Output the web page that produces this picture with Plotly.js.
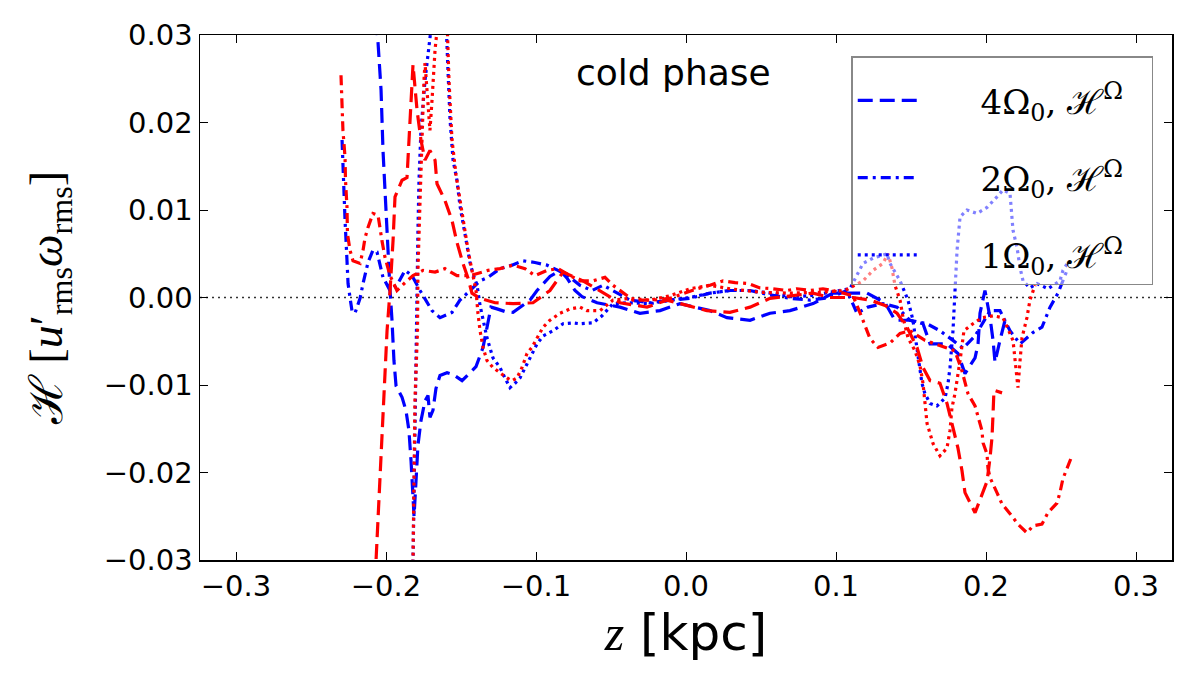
<!DOCTYPE html>
<html>
<head>
<meta charset="utf-8">
<script src="https://cdn.plot.ly/plotly-3.0.1.min.js"></script>
<style>
  html, body { margin: 0; padding: 0; background: #fff; }
  #chart { width: 1196px; height: 683px; }
</style>
</head>
<body>
<div id="chart"></div>
<script>
// helicity profiles, cold phase (z in kpc, H in u'_rms * w_rms)

// 4 Omega_0, H^Omega (blue dashed)
var z4b = [-0.2067, -0.2053, -0.2033, -0.202, -0.2, -0.1987, -0.1973, -0.196, -0.1947, -0.1933,
  -0.1893, -0.1867, -0.1847, -0.1833, -0.182, -0.1813, -0.18, -0.1787, -0.1767, -0.174,
  -0.172, -0.1707, -0.1687, -0.1667, -0.164, -0.1593, -0.1553, -0.1493, -0.144, -0.14,
  -0.1353, -0.132, -0.13, -0.126, -0.1207, -0.1153, -0.1093, -0.104, -0.0993, -0.0953,
  -0.0907, -0.084, -0.0793, -0.074, -0.0693, -0.0593, -0.044, -0.0307, -0.0173, -0.004,
  0.006, 0.016, 0.0273, 0.0427, 0.056, 0.0693, 0.0847, 0.098, 0.1093, 0.1207,
  0.1327, 0.1393, 0.1493, 0.158, 0.1627, 0.174, 0.1813, 0.186, 0.1893, 0.1927,
  0.1947, 0.196, 0.1993, 0.2027, 0.2047, 0.206, 0.2093, 0.2127];
var h4b = [0.0317, 0.0291, 0.0237, 0.0168, 0.0100, 0.0048, 0.0008, -0.0026, -0.0072, -0.0101,
  -0.0114, -0.0129, -0.0152, -0.0187, -0.0221, -0.0250, -0.0210, -0.0169, -0.0141, -0.0118,
  -0.0112, -0.0137, -0.0129, -0.0104, -0.0089, -0.0086, -0.0088, -0.0095, -0.0086, -0.0079,
  -0.0057, -0.0030, -0.0011, -0.0013, -0.0016, -0.0017, -0.0009, -0.0003, 0.0008, 0.0016,
  0.0024, 0.0031, 0.0022, 0.0008, 0.0001, -0.0006, -0.0011, -0.0018, -0.0015, -0.0007,
  -0.0011, -0.0015, -0.0023, -0.0026, -0.0018, -0.0015, -0.0007, 0.0005, 0.0005, 0.0005,
  -0.0006, -0.0026, -0.0026, -0.0030, -0.0053, -0.0053, -0.0064, -0.0087, -0.0078, -0.0069,
  -0.0053, -0.0018, 0.0008, -0.0023, -0.0049, -0.0074, -0.0049, -0.0026];

// 2 Omega_0, H^Omega (blue dash-dot)
var z2b = [-0.2293, -0.2287, -0.2283, -0.2273, -0.226, -0.2253, -0.224, -0.2227, -0.2207, -0.2173,
  -0.2153, -0.212, -0.2087, -0.206, -0.202, -0.1973, -0.1927, -0.1873, -0.1827, -0.1773,
  -0.1693, -0.164, -0.156, -0.1507, -0.144, -0.1373, -0.132, -0.124, -0.116, -0.1087,
  -0.1007, -0.0927, -0.0853, -0.0787, -0.0707, -0.0627, -0.0553, -0.0473, -0.0373, -0.024,
  -0.0107, 0.0027, 0.016, 0.0293, 0.0427, 0.056, 0.0693, 0.0827, 0.096, 0.1073,
  0.114, 0.1213, 0.1313, 0.1407, 0.1493, 0.1607, 0.1693, 0.178, 0.1847, 0.1927,
  0.2027, 0.2093, 0.216, 0.2227, 0.2273, 0.2313, 0.2373, 0.2427, 0.248, 0.2513, 0.2547];
var h2b = [0.0180, 0.0149, 0.0119, 0.0088, 0.0042, 0.0016, 0.0000, -0.0015, -0.0018, -0.0001,
  0.0016, 0.0040, 0.0054, 0.0052, 0.0023, 0.0008, 0.0014, 0.0031, 0.0025, 0.0008,
  -0.0015, -0.0023, -0.0017, -0.0003, 0.0008, 0.0019, 0.0023, 0.0033, 0.0037, 0.0042,
  0.0040, 0.0037, 0.0031, 0.0025, 0.0014, 0.0008, 0.0014, 0.0006, -0.0003, -0.0006,
  -0.0003, -0.0001, 0.0005, 0.0008, 0.0008, 0.0003, -0.0001, -0.0003, 0.0000, 0.0008,
  -0.0018, -0.0011, -0.0007, -0.0011, -0.0026, -0.0030, -0.0038, -0.0049, -0.0058, -0.0044,
  -0.0015, -0.0015, -0.0038, -0.0053, -0.0046, -0.0040, -0.0034, -0.0011, 0.0005, 0.0019, 0.0034];

// 1 Omega_0, H^Omega (blue dotted)
var z1b = [-0.182, -0.1813, -0.1807, -0.18, -0.1793, -0.1787, -0.178, -0.1767, -0.174, -0.1713,
  -0.1693, -0.1653, -0.16, -0.1587, -0.1573, -0.1553, -0.1527, -0.1507, -0.1487, -0.146,
  -0.144, -0.142, -0.1393, -0.1373, -0.1347, -0.1327, -0.1287, -0.124, -0.1207, -0.1173,
  -0.114, -0.1107, -0.106, -0.1027, -0.0993, -0.0953, -0.0887, -0.082, -0.0753, -0.0707,
  -0.062, -0.056, -0.0487, -0.0373, -0.024, -0.0107, 0.0027, 0.016, 0.0293, 0.0427,
  0.056, 0.0693, 0.0827, 0.096, 0.1093, 0.118, 0.1247, 0.134, 0.136, 0.1427,
  0.148, 0.1513, 0.1547, 0.1573, 0.1593, 0.1627, 0.1673, 0.1727, 0.1747, 0.176,
  0.178, 0.1793, 0.1807, 0.1827, 0.1873, 0.194, 0.2007, 0.2073, 0.2113, 0.216,
  0.2173, 0.218, 0.2207, 0.2227, 0.2247, 0.2293, 0.234, 0.2413, 0.2493, 0.2513, 0.2547];
var h1b = [-0.0303, -0.0210, -0.0118, -0.0038, 0.0008, 0.0077, 0.0134, 0.0191, 0.0248, 0.0289,
  0.0317, 0.0334, 0.0317, 0.0260, 0.0203, 0.0157, 0.0134, 0.0105, 0.0084, 0.0059,
  0.0040, 0.0027, 0.0014, -0.0009, -0.0032, -0.0046, -0.0069, -0.0080, -0.0092, -0.0103,
  -0.0098, -0.0092, -0.0076, -0.0064, -0.0053, -0.0044, -0.0038, -0.0030, -0.0029, -0.0030,
  -0.0029, -0.0021, -0.0007, -0.0006, -0.0007, -0.0003, 0.0000, 0.0005, 0.0008, 0.0008,
  0.0005, 0.0001, 0.0002, 0.0006, 0.0010, 0.0039, 0.0045, 0.0050, 0.0039, 0.0019,
  -0.0003, -0.0026, -0.0069, -0.0098, -0.0110, -0.0121, -0.0124, -0.0115, -0.0098, -0.0080,
  -0.0038, 0.0008, 0.0054, 0.0092, 0.0100, 0.0096, 0.0103, 0.0115, 0.0123, 0.0119,
  0.0096, 0.0077, 0.0057, 0.0034, 0.0019, 0.0011, 0.0016, 0.0010, 0.0019, 0.0031, 0.0040];

// red dashed
var z4r = [-0.2073, -0.206, -0.204, -0.2013, -0.1993, -0.1973, -0.196, -0.1953, -0.194, -0.1893,
  -0.186, -0.1853, -0.184, -0.1827, -0.182, -0.1793, -0.1767, -0.174, -0.1707, -0.1673,
  -0.166, -0.1607, -0.156, -0.1527, -0.1487, -0.1453, -0.1427, -0.1373, -0.1273, -0.1153,
  -0.102, -0.0907, -0.082, -0.0687, -0.056, -0.044, -0.026, -0.0127, 0.0007, 0.014,
  0.0293, 0.0427, 0.056, 0.0713, 0.0847, 0.096, 0.1113, 0.1227, 0.1327, 0.1407,
  0.1473, 0.154, 0.158, 0.1627, 0.1693, 0.174, 0.178, 0.1813, 0.184, 0.186,
  0.1927, 0.196, 0.2007, 0.2027, 0.204, 0.2047, 0.2053, 0.2107];
var h4r = [-0.0324, -0.0278, -0.0210, -0.0118, -0.0038, 0.0008, 0.0039, 0.0065, 0.0115, 0.0134,
  0.0137, 0.0160, 0.0191, 0.0229, 0.0266, 0.0214, 0.0180, 0.0157, 0.0168, 0.0157,
  0.0130, 0.0111, 0.0088, 0.0063, 0.0039, 0.0022, 0.0005, -0.0001, -0.0006, -0.0007,
  -0.0006, 0.0008, 0.0029, 0.0019, 0.0006, -0.0006, -0.0011, -0.0003, -0.0009, -0.0015,
  -0.0017, -0.0011, -0.0001, 0.0002, 0.0005, 0.0000, 0.0000, -0.0003, -0.0009, -0.0018,
  -0.0034, -0.0057, -0.0080, -0.0095, -0.0098, -0.0121, -0.0149, -0.0172, -0.0198, -0.0223,
  -0.0246, -0.0232, -0.0210, -0.0183, -0.0160, -0.0133, -0.0106, -0.0109];

// red dash-dot
var z2r = [-0.23, -0.2293, -0.2287, -0.2273, -0.227, -0.226, -0.2257, -0.224, -0.222, -0.2173,
  -0.2153, -0.214, -0.212, -0.2087, -0.2053, -0.2027, -0.2007, -0.1973, -0.1927, -0.1873,
  -0.182, -0.1753, -0.1673, -0.1607, -0.1527, -0.144, -0.132, -0.124, -0.1153, -0.1073,
  -0.1007, -0.0927, -0.0853, -0.0773, -0.0707, -0.062, -0.054, -0.0487, -0.0353, -0.022,
  -0.0107, 0.0007, 0.0073, 0.016, 0.0247, 0.0327, 0.0413, 0.0493, 0.058, 0.0673,
  0.074, 0.0827, 0.0913, 0.1027, 0.1113, 0.1173, 0.1227, 0.128, 0.136, 0.1427,
  0.1493, 0.1593, 0.1693, 0.1793, 0.184, 0.188, 0.1927, 0.1947, 0.1973, 0.198,
  0.2007, 0.2013, 0.2027, 0.2073, 0.2107, 0.216, 0.2213, 0.2273, 0.2313, 0.2373,
  0.2413, 0.2473, 0.2493, 0.2513, 0.2547, 0.2573];
var h2r = [0.0254, 0.0218, 0.0191, 0.0160, 0.0134, 0.0103, 0.0073, 0.0054, 0.0042, 0.0039,
  0.0054, 0.0068, 0.0080, 0.0096, 0.0094, 0.0065, 0.0046, 0.0025, 0.0008, 0.0017,
  0.0025, 0.0031, 0.0029, 0.0033, 0.0025, 0.0025, 0.0031, 0.0033, 0.0037, 0.0033,
  0.0025, 0.0031, 0.0033, 0.0025, 0.0019, 0.0019, 0.0023, 0.0014, -0.0003, -0.0003,
  -0.0001, 0.0006, 0.0010, 0.0014, 0.0019, 0.0017, 0.0016, 0.0011, 0.0010, 0.0008,
  0.0010, 0.0008, 0.0010, 0.0006, 0.0002, -0.0023, -0.0047, -0.0057, -0.0052, -0.0041,
  -0.0038, -0.0049, -0.0055, -0.0061, -0.0084, -0.0110, -0.0124, -0.0137, -0.0152, -0.0166,
  -0.0179, -0.0195, -0.0206, -0.0223, -0.0236, -0.0247, -0.0259, -0.0269, -0.0261, -0.0259,
  -0.0246, -0.0235, -0.0223, -0.0207, -0.0192, -0.0181];

// red dotted
var z1r = [-0.182, -0.1813, -0.1807, -0.179, -0.1787, -0.1773, -0.176, -0.1747, -0.174, -0.1727,
  -0.1707, -0.1693, -0.1673, -0.1653, -0.1593, -0.158, -0.156, -0.1533, -0.1507, -0.148,
  -0.1453, -0.1427, -0.14, -0.1387, -0.1373, -0.1353, -0.1327, -0.1287, -0.124, -0.1193,
  -0.116, -0.1127, -0.1093, -0.106, -0.1027, -0.0987, -0.0953, -0.0907, -0.084, -0.0773,
  -0.0707, -0.066, -0.0573, -0.0487, -0.0373, -0.024, -0.0107, 0.0027, 0.016, 0.0293,
  0.0493, 0.0693, 0.0893, 0.106, 0.118, 0.1247, 0.1313, 0.1347, 0.1373, 0.1393,
  0.1427, 0.1447, 0.148, 0.1527, 0.156, 0.158, 0.1607, 0.1647, 0.1693, 0.174,
  0.176, 0.1773, 0.1793, 0.1827, 0.1853, 0.1913, 0.1973, 0.2047, 0.2113, 0.218,
  0.2213, 0.2227, 0.224, 0.2273, 0.2293, 0.2327];
var h1r = [-0.0303, -0.0210, -0.0118, -0.0038, 0.0031, 0.0111, 0.0191, 0.0248, 0.0268, 0.0237,
  0.0191, 0.0226, 0.0283, 0.0317, 0.0317, 0.0248, 0.0180, 0.0140, 0.0111, 0.0082,
  0.0054, 0.0031, 0.0008, -0.0018, -0.0038, -0.0057, -0.0072, -0.0080, -0.0086, -0.0092,
  -0.0095, -0.0092, -0.0080, -0.0064, -0.0057, -0.0044, -0.0034, -0.0026, -0.0018, -0.0013,
  -0.0011, -0.0015, -0.0015, -0.0003, -0.0001, -0.0003, 0.0002, 0.0010, 0.0014, 0.0010,
  0.0006, 0.0005, 0.0006, 0.0008, 0.0019, 0.0031, 0.0039, 0.0050, 0.0034, 0.0014,
  -0.0003, -0.0023, -0.0046, -0.0061, -0.0078, -0.0098, -0.0144, -0.0167, -0.0181, -0.0172,
  -0.0152, -0.0126, -0.0110, -0.0072, -0.0038, -0.0030, -0.0023, -0.0021, -0.0023, -0.0049,
  -0.0103, -0.0072, -0.0046, -0.0023, -0.0003, 0.0014];

var legendNames = ['4Ω<sub>0</sub>, ℋ<sup>Ω</sup>', '2Ω<sub>0</sub>, ℋ<sup>Ω</sup>', '1Ω<sub>0</sub>, ℋ<sup>Ω</sup>'];
var xTicks = [-0.3, -0.2, -0.1, 0.0, 0.1, 0.2, 0.3];
var yTicks = [-0.03, -0.02, -0.01, 0.00, 0.01, 0.02, 0.03];

var DASHED = '15px,7px';
var DASHDOT = '10px,5px,3px,5px';
var DOTTED = '3px,4px';

function mkLine(x, y, color, dash, name, group) {
    return {
        x: x, y: y, type: 'scatter', mode: 'lines',
        line: { color: color, width: 3.2, dash: dash },
        // pad the legend label so the text sits where the original puts it
        name: name ? '\u2003\u2002\u2009' + name + '\u2002\u2009' : '',
        showlegend: !!name,
        legendgroup: group || undefined,
        hoverinfo: 'skip'
    };
}

var traces = [
    mkLine(z4b, h4b, '#0000ff', DASHED, legendNames[0], 'g1'),
    mkLine(z2b, h2b, '#0000ff', DASHDOT, legendNames[1], 'g2'),
    mkLine(z1b, h1b, '#0000ff', DOTTED, legendNames[2], 'g3'),
    mkLine(z4r, h4r, '#ff0000', DASHED),
    mkLine(z2r, h2r, '#ff0000', DASHDOT),
    mkLine(z1r, h1r, '#ff0000', DOTTED)
];

var axisBase = {
    showgrid: false, zeroline: false,
    showline: true, linecolor: '#000', linewidth: 1.5,
    mirror: 'allticks', ticks: 'inside', ticklen: 8, tickwidth: 1, tickcolor: '#000',
    tickfont: { family: 'DejaVu Sans', size: 29, color: '#000' }
};

var layout = {
    width: 1196, height: 683,
    paper_bgcolor: '#fff', plot_bgcolor: '#fff',
    margin: { l: 200, r: 24, t: 35, b: 123 },
    showlegend: true,
    xaxis: Object.assign({}, axisBase, {
        range: [-0.324, 0.324], tickvals: xTicks, tickformat: '.1f',
        title: {
            text: '<span style="font-family:Liberation Serif"><i>z</i></span> [kpc]',
            font: { family: 'DejaVu Sans', size: 50, color: '#000' }, standoff: 12
        }
    }),
    yaxis: Object.assign({}, axisBase, {
        range: [-0.03, 0.03], tickvals: yTicks, tickformat: '.2f',
        title: {
            text: 'ℋ [<i>u</i>′<sub>rms</sub><i>ω</i><sub>rms</sub>]',
            font: { family: 'Liberation Serif', size: 46, color: '#000' }, standoff: 26
        }
    }),
    legend: {
        x: 0.67, y: 0.96, xanchor: 'left', yanchor: 'top',
        bgcolor: 'rgba(255,255,255,0.5)', bordercolor: '#888', borderwidth: 1.5,
        font: { family: 'DejaVu Serif', size: 34, color: '#000' },
        title: { text: ' ', font: { size: 11 } },
        itemwidth: 60, tracegroupgap: 30, traceorder: 'grouped'
    },
    shapes: [{
        type: 'line', xref: 'paper', x0: 0, x1: 1, yref: 'y', y0: 0, y1: 0,
        line: { color: '#333', width: 1.5, dash: '2px,4px' }, layer: 'below'
    }],
    annotations: [{
        xref: 'paper', yref: 'paper', x: 0.487, y: 0.928, yanchor: 'middle',
        text: 'cold phase', showarrow: false,
        font: { family: 'DejaVu Sans', size: 36, color: '#000' }
    }]
};

Plotly.newPlot('chart', traces, layout, { displayModeBar: false, staticPlot: true });
</script>
</body>
</html>
